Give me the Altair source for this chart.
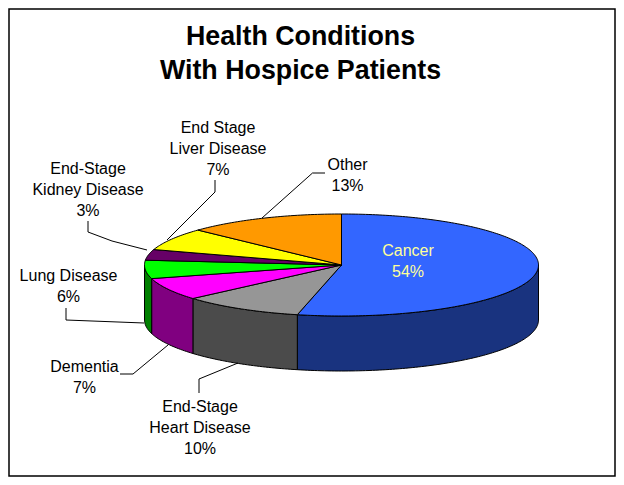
import math
import numpy as np
import altair as alt

# ---- data ----
categories = ["Cancer", "End-Stage Heart Disease", "Dementia", "Lung Disease",
              "End-Stage Kidney Disease", "End Stage Liver Disease", "Other"]
values = [53.6, 10.0, 7.1, 5.8, 3.4, 7.1, 13.0]
top_colors = ["#3366FF", "#969696", "#FF00FF", "#00FF00", "#660066", "#FFFF00", "#FF9900"]
side_colors = ["#19337F", "#4B4B4B", "#800080", "#008000", "#330033", "#7F7F00", "#7F4C00"]
title_lines = ["Health Conditions", "With Hospice Patients"]

# ---- layout (chart coordinates = page coordinates - 8) ----
OFF = 8
CX, CY, RX, RY, DEPTH = 341.5 - OFF, 265 - OFF, 197, 51, 55


def pt(deg, dy=0):
    a = math.radians(deg)
    return [CX + RX * math.sin(a), CY - RY * math.cos(a) + dy]


def arc(a, b):
    n = max(2, int(abs(b - a)) + 2)
    return list(np.linspace(a, b, n))


features_side, features_top = [], []
start = 0.0
for name, v, ct, cs in zip(categories, values, top_colors, side_colors):
    end = start + v * 3.6
    features_top.append({
        "type": "Feature",
        "geometry": {"type": "Polygon", "coordinates": [
            [[CX, CY]] + [pt(d) for d in arc(start, end)] + [[CX, CY]]]},
        "properties": {"name": name, "fill": ct},
    })
    lo, hi = max(start, 90), min(end, 270)
    if lo < hi:
        upper = [pt(d) for d in arc(lo, hi)]
        lower = [pt(d, DEPTH) for d in arc(hi, lo)]
        features_side.append({
            "type": "Feature",
            "geometry": {"type": "Polygon", "coordinates": [upper + lower + [upper[0]]]},
            "properties": {"name": name, "fill": cs},
        })
    start = end

leader_paths = [
    [[262, 218], [312.5, 173], [325, 173]],
    [[167, 240], [215, 192], [215, 180]],
    [[147, 250], [112, 241], [88, 232], [88, 221]],
    [[144, 323], [66, 320], [66, 308]],
    [[168, 345], [133, 374], [120, 374]],
    [[238, 363], [199, 379], [199, 393]],
]
features_lines = [
    {"type": "Feature",
     "geometry": {"type": "LineString", "coordinates": [[x - OFF, y - OFF] for x, y in p]},
     "properties": {}}
    for p in leader_paths
]

label_layout = [
    # lines, centre x, first-line centre y, colour
    (["Cancer", "54%"], 408, 251.3, "#FFFF99"),
    (["End-Stage", "Heart Disease", "10%"], 200, 407.3, "#000000"),
    (["Dementia", "7%"], 84.5, 367.3, "#000000"),
    (["Lung Disease", "6%"], 68.5, 276.3, "#000000"),
    (["End-Stage", "Kidney Disease", "3%"], 88, 169.3, "#000000"),
    (["End Stage", "Liver Disease", "7%"], 218, 128.3, "#000000"),
    (["Other", "13%"], 347.5, 165.3, "#000000"),
]
label_rows = []
for lines, x, y, col in label_layout:
    for i, t in enumerate(lines):
        label_rows.append({"t": t, "x": x - OFF, "y": y - OFF + i * 20.6, "c": col})

title_rows = [{"t": t, "x": 300.5 - OFF, "y": 37 - OFF + i * 34.3} for i, t in enumerate(title_lines)]

FONT = "Liberation Sans"


def shapes(features):
    return (
        alt.Chart(alt.Data(values=features))
        .mark_geoshape(stroke="black", strokeWidth=1)
        .encode(fill=alt.Fill("properties.fill:N", scale=None))
        .project(type="identity", scale=1, translate=[0, 0])
    )


frame = alt.Chart(alt.Data(values=[{"a": 1}])).mark_rect(
    fill="white", stroke="black", strokeWidth=1.5
).encode(x=alt.value(1), x2=alt.value(607), y=alt.value(1), y2=alt.value(468))

lines = (
    alt.Chart(alt.Data(values=features_lines))
    .mark_geoshape(filled=False, stroke="black", strokeWidth=1)
    .project(type="identity", scale=1, translate=[0, 0])
)

labels = alt.Chart(alt.Data(values=label_rows)).mark_text(
    font=FONT, fontSize=16, align="center", baseline="middle"
).encode(
    x=alt.X("x:Q", scale=None, axis=None),
    y=alt.Y("y:Q", scale=None, axis=None),
    text="t:N",
    color=alt.Color("c:N", scale=None),
)

title = alt.Chart(alt.Data(values=title_rows)).mark_text(
    font=FONT, fontSize=26.8, fontWeight="bold", align="center", baseline="middle", color="black"
).encode(
    x=alt.X("x:Q", scale=None, axis=None),
    y=alt.Y("y:Q", scale=None, axis=None),
    text="t:N",
)

chart = alt.layer(frame, shapes(features_side), shapes(features_top), lines, labels, title).properties(
    width=608, height=469, padding=0, background="white",
    autosize=alt.AutoSizeParams(type="none"),
).configure_view(stroke=None)

chart.save("out.html", embed_options={"renderer": "svg", "actions": False})
